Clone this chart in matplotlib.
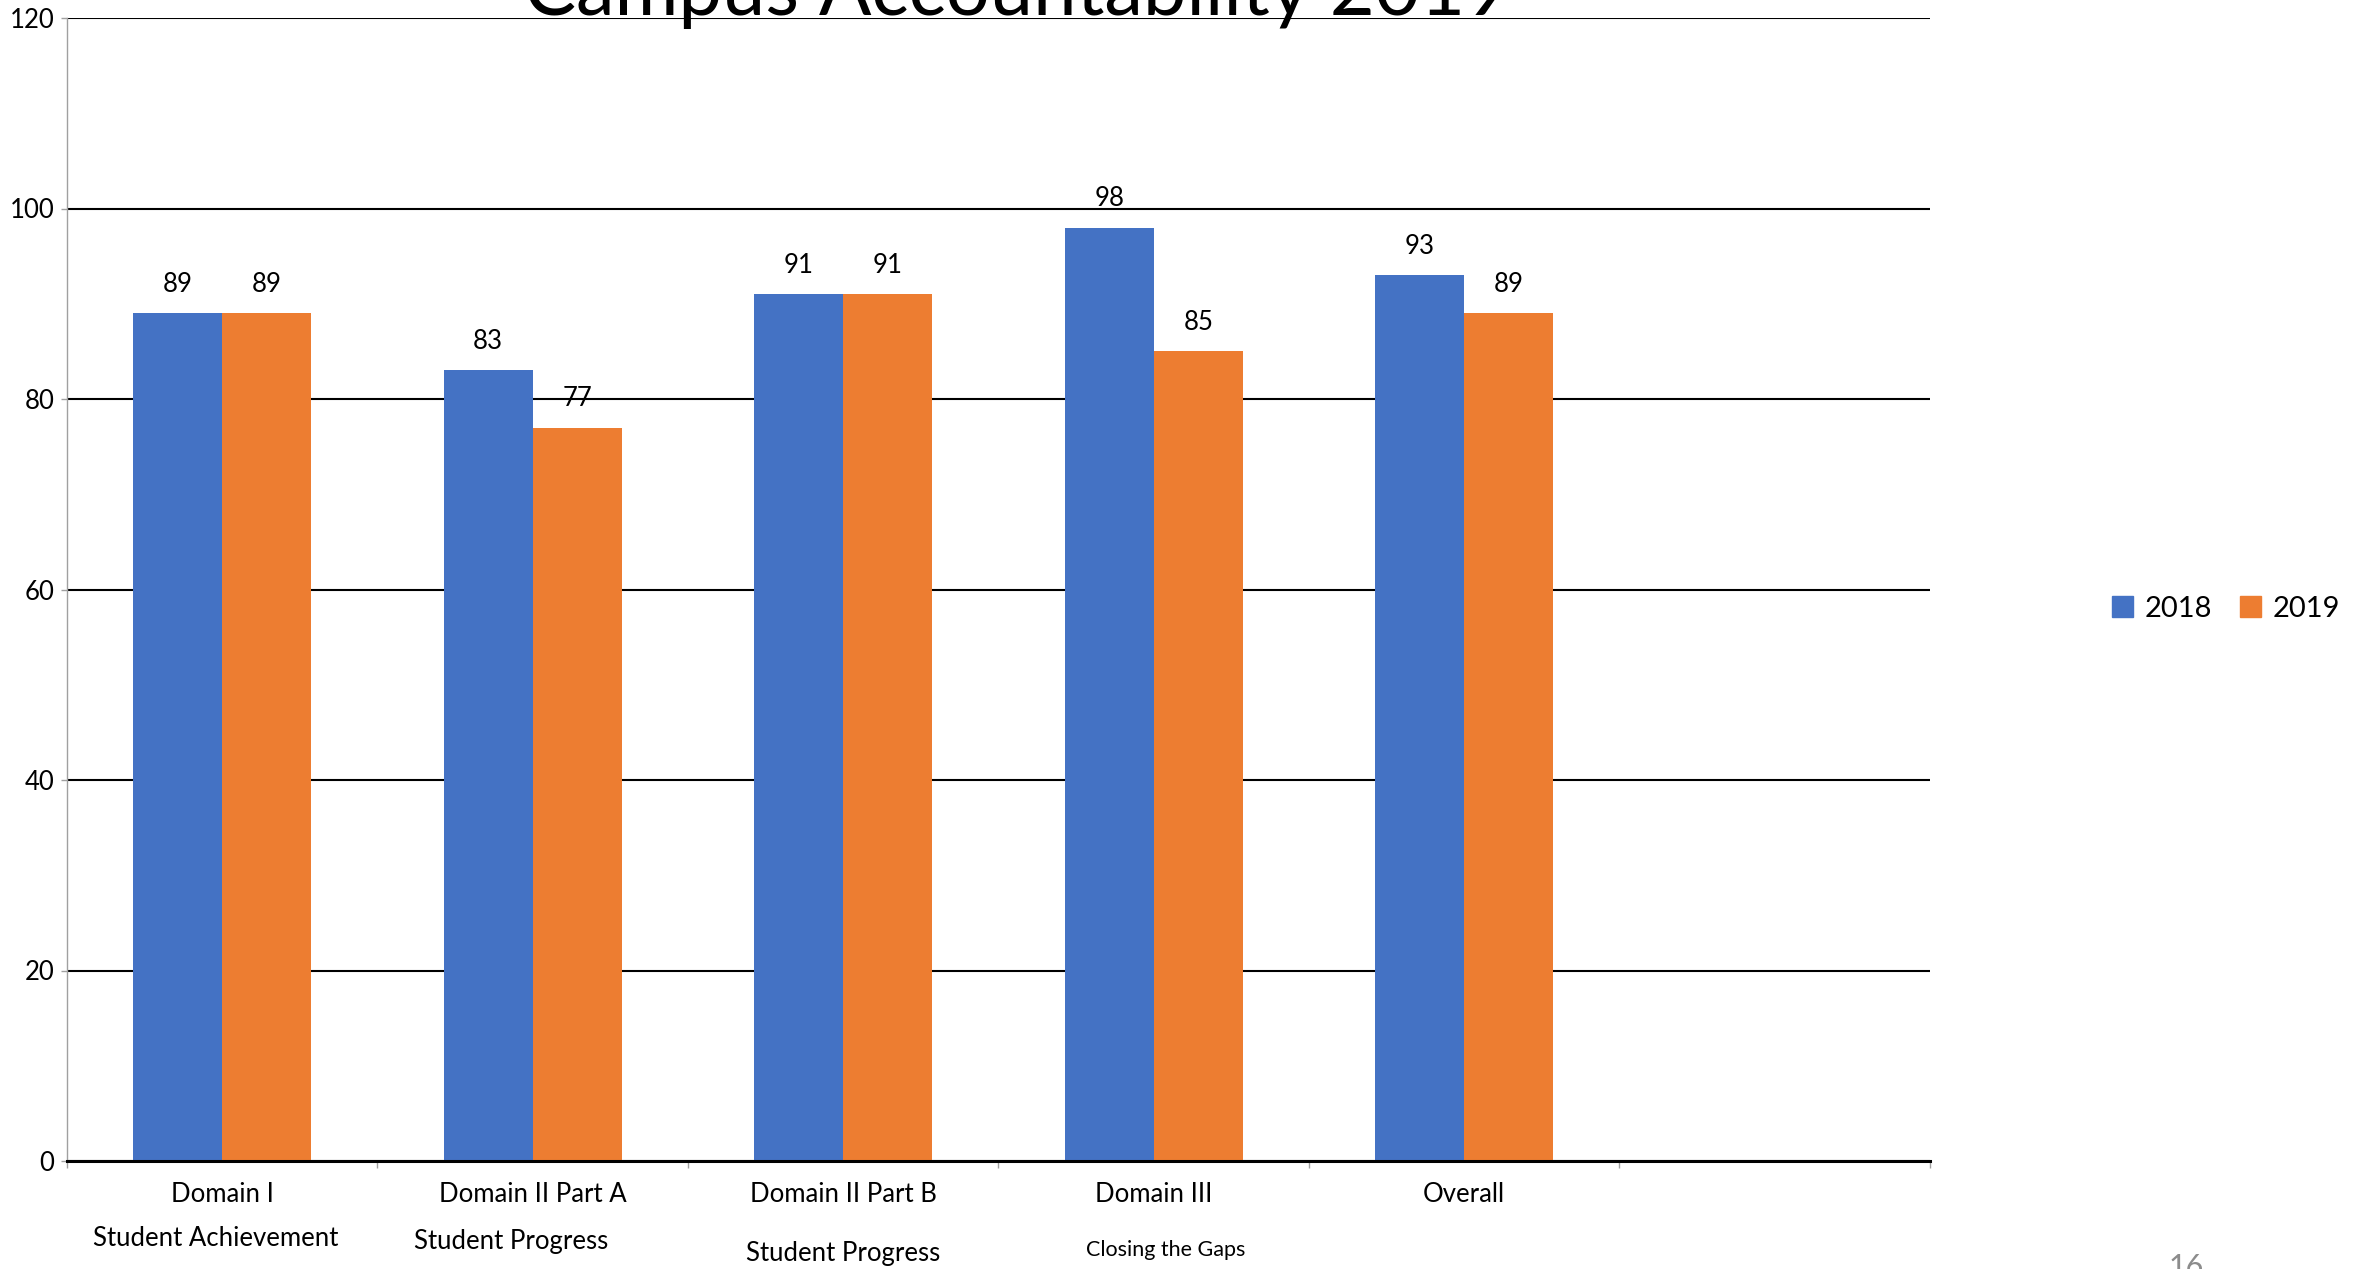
import matplotlib
matplotlib.use('Agg')
import matplotlib.pyplot as plt
import matplotlib.transforms as mtransforms
from matplotlib.patches import Patch
import numpy as np

plt.rcParams['font.family'] = ['Lato', 'DejaVu Sans']

# data
categories = ['Domain I', 'Domain II Part A', 'Domain II Part B', 'Domain III', 'Overall']
subtitles = ['Student Achievement', 'Student Progress', 'Student Progress', 'Closing the Gaps', '']
series_names = ['2018', '2019']
values_2018 = [89, 83, 91, 98, 93]
values_2019 = [89, 77, 91, 85, 89]
y_ticks = [0, 20, 40, 60, 80, 100, 120]

BLUE = '#4472C4'
ORANGE = '#ED7D31'
W, H = 2363, 1269
FS = 18.5

fig = plt.figure(figsize=(W / 100, H / 100), dpi=100)
ax = fig.add_axes([67 / W, 1 - 1161 / H, (1930 - 67) / W, (1161 - 18) / H])

n_slots = len(categories) + 1  # one empty slot on the right
x = np.arange(len(categories))
bw = 0.287

bars1 = ax.bar(x - bw / 2, values_2018, bw, color=BLUE, zorder=3)
bars2 = ax.bar(x + bw / 2, values_2019, bw, color=ORANGE, zorder=3)

for bars in (bars1, bars2):
    for b in bars:
        ax.annotate(f'{b.get_height():g}', (b.get_x() + b.get_width() / 2, b.get_height()),
                    xytext=(0, 21), textcoords='offset points', ha='center', va='center',
                    fontsize=FS, color='black', zorder=4)

ax.set_xlim(-0.5, n_slots - 0.5)
ax.set_ylim(0, 120)
ax.set_yticks(y_ticks)
ax.yaxis.grid(True, color='black', lw=1.5, zorder=1)
ax.set_axisbelow(True)

ax.set_xticks([])
ax.set_xticks(np.arange(n_slots + 1) - 0.5, minor=True)
ax.tick_params(axis='x', which='minor', length=5, color='#A0A0A0', width=1, direction='out')
ax.tick_params(axis='y', length=4, color='#A0A0A0', width=1, pad=5, labelsize=FS)

for side in ('top', 'right'):
    ax.spines[side].set_visible(False)
ax.spines['left'].set_color('#A0A0A0')
ax.spines['left'].set_linewidth(1)
ax.spines['bottom'].set_color('black')
ax.spines['bottom'].set_linewidth(2.2)
ax.spines['bottom'].set_zorder(5)

# two-line category labels
trans = mtransforms.blended_transform_factory(ax.transData, fig.transFigure)
line1_y = 1194
line2_y = [1238, 1241, 1254, 1250, 1250]
line2_dx = [-0.02, -0.07, 0.0, 0.04, 0.0]
line2_size = [FS, FS, FS, 15.5, FS]
for i, (cat, sub) in enumerate(zip(categories, subtitles)):
    ax.text(i, 1 - line1_y / H, cat, transform=trans, ha='center', va='center', fontsize=FS)
    if sub:
        ax.text(i + line2_dx[i], 1 - line2_y[i] / H, sub, transform=trans,
                ha='center', va='center', fontsize=line2_size[i])

fig.text(1017 / W, 1 - 15 / H, 'Campus Accountability 2019', ha='center', va='baseline', fontsize=56)

handles = [Patch(color=BLUE), Patch(color=ORANGE)]
fig.legend(handles, series_names, loc='center left', bbox_to_anchor=(2112 / W, 1 - 609 / H),
           ncol=2, frameon=False, fontsize=21, handlelength=0.72, handleheight=0.72,
           handletextpad=0.4, columnspacing=0.95, borderaxespad=0, borderpad=0)

fig.text(2186 / W, 1 - 1253 / H, '16', ha='center', va='top', fontsize=22, color='#8C8C8C')

fig.savefig('out.png', dpi=100)
